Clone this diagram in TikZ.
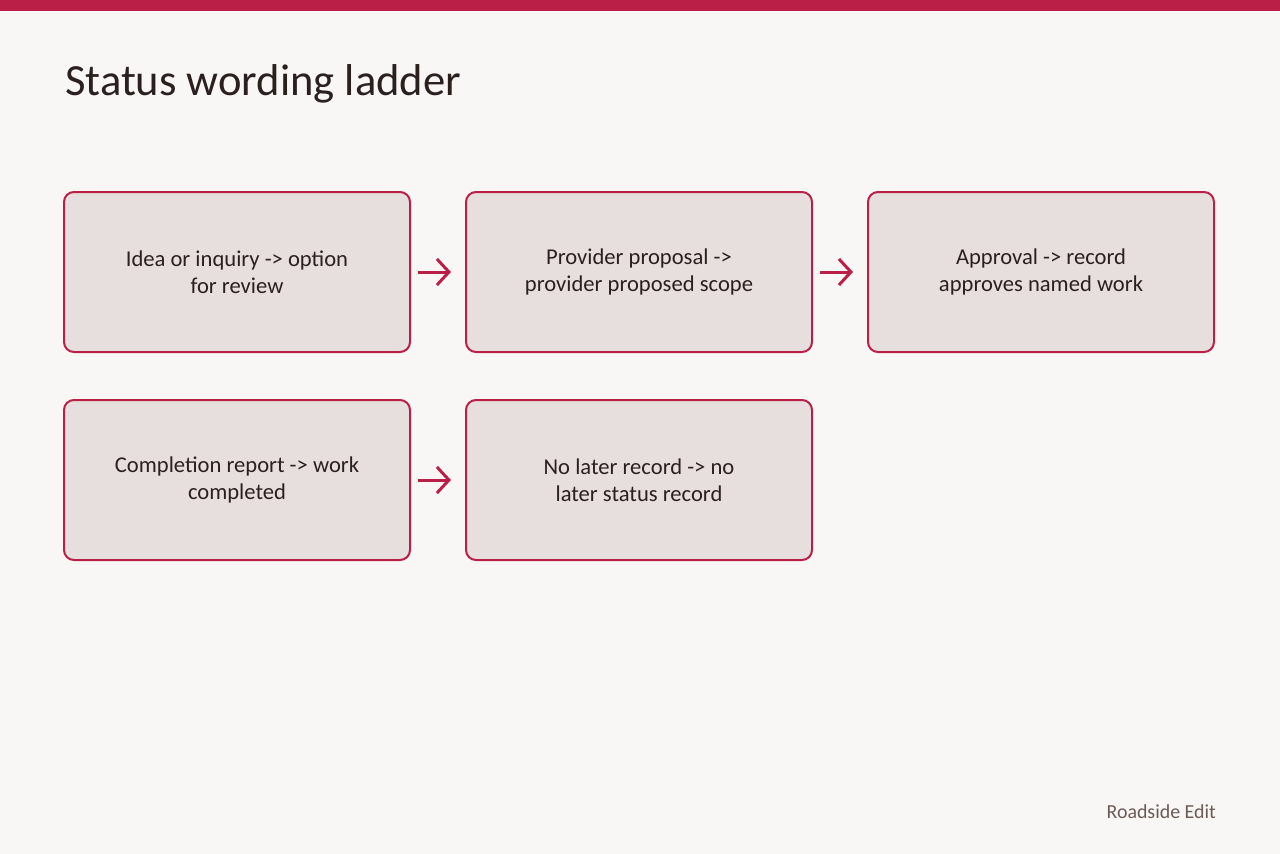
\documentclass[tikz,border=0pt]{standalone}
\usepackage{fontspec}
\setmainfont{Carlito}
\usetikzlibrary{arrows.meta}

\definecolor{pagebg}{HTML}{F9F7F5}
\definecolor{crimson}{HTML}{BA1F48}
\definecolor{cardfill}{HTML}{E7DFDD}
\definecolor{inktext}{HTML}{2A211F}
\definecolor{foottext}{HTML}{6B5A56}

\tikzset{
  card/.style={draw=crimson, fill=cardfill, line width=2pt, rounded corners=10pt,
    minimum width=346pt, minimum height=160pt, align=center, text=inktext,
    font=\fontsize{22.6}{27}\selectfont},
  flow/.style={draw=crimson, line width=3pt,
    -{Straight Barb[length=12pt,width=26pt,line width=3pt]},
    shorten <=7pt, shorten >=14pt}
}

\begin{document}
\begin{tikzpicture}[x=1pt,y=-1pt]

\def\pageW{1280}
\def\pageH{854}
\def\colA{237}
\def\colB{639}
\def\colC{1041}
\def\rowA{272}
\def\rowB{480}

\useasboundingbox (0,0) rectangle (\pageW,\pageH);
\fill [pagebg] (0,0) rectangle (\pageW,\pageH);
\fill [crimson] (0,0) rectangle (\pageW,11);

\node [anchor=base west, inner sep=0pt, text=inktext, font=\fontsize{44.6}{50}\selectfont]
  (title) at (65,95) {Status wording ladder};

% first row
\node [card] (idea)     at (\colA,\rowA) {Idea or inquiry -> option\\for review};
\node [card] (proposal) at (\colB,\rowA) {Provider proposal ->\\provider proposed scope};
\node [card] (approval) at (\colC,\rowA) {Approval -> record\\approves named work};

% second row
\node [card] (complete) at (\colA,\rowB) {Completion report -> work\\completed};
\node [card] (nolater)  at (\colB,\rowB) {No later record -> no\\later status record};

\draw [flow] (idea.east) -- (proposal.west);
\draw [flow] (proposal.east) -- (approval.west);
\draw [flow] (complete.east) -- (nolater.west);

\node [anchor=base east, inner sep=0pt, text=foottext, font=\fontsize{19.9}{24}\selectfont]
  (brand) at (1216,818) {Roadside Edit};

\end{tikzpicture}
\end{document}
